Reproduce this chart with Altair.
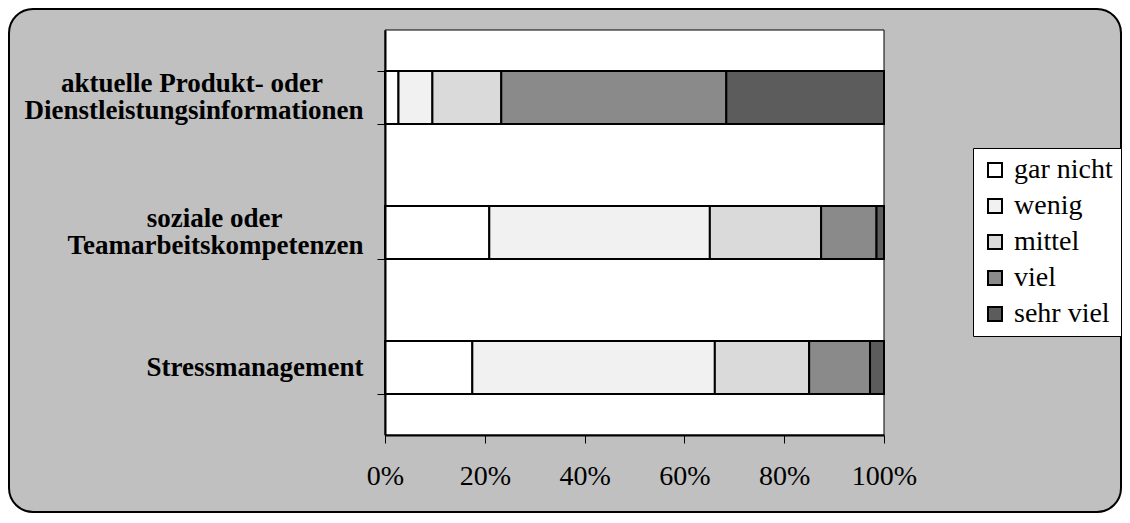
import json
import altair as alt
import pandas as pd

# ---- data ----
category_lines = [
    ["aktuelle Produkt- oder", "Dienstleistungsinformationen"],
    ["soziale oder", "Teamarbeitskompetenzen"],
    ["Stressmanagement"],
]
levels = ["gar nicht", "wenig", "mittel", "viel", "sehr viel"]
produkt = [2.7, 6.8, 13.8, 45.1, 31.6]
sozial = [20.9, 44.2, 22.3, 11.1, 1.5]
stress = [17.5, 48.6, 18.9, 12.2, 2.8]
x_ticks = [0, 0.2, 0.4, 0.6, 0.8, 1.0]

colors = ["#ffffff", "#f1f1f1", "#dadada", "#8a8a8a", "#5c5c5c"]

categories = [" ".join(lines) for lines in category_lines]

# Label layout helpers: half-height filler lines keep one- and two-line labels
# vertically centred; no-break spaces (closed by a zero-width space so they are
# not trimmed) make the right-aligned short first lines look centred.
ZW = "\u200b"
pad = [6, 12, 0]
display = {}
for cat, lines, p in zip(categories, category_lines, pad):
    if len(lines) > 1:
        shown = [lines[0] + "\u00a0" * p + ZW, ZW, lines[1]]
    else:
        shown = [ZW, lines[0]]
    display[cat] = shown
lut = json.dumps(display)

rows = []
for cat, vals in zip(categories, [produkt, sozial, stress]):
    for i, (lev, v) in enumerate(zip(levels, vals)):
        rows.append({"cat": cat, "level": lev, "idx": i, "value": v})
df = pd.DataFrame(rows)

W, H = 499, 405
one = pd.DataFrame({"k": [0]})

frame = alt.Chart(one).mark_rect(
    fill="#c0c0c0", stroke="black", strokeWidth=2, cornerRadius=24
).encode(
    x=alt.value(-376), x2=alt.value(W + 237),
    y=alt.value(-21), y2=alt.value(H + 77),
)

plotbg = alt.Chart(one).mark_rect(
    fill="white", stroke="black", strokeWidth=1
).encode(
    x=alt.value(0), x2=alt.value(W), y=alt.value(0), y2=alt.value(H)
)

bars = alt.Chart(df).mark_bar(stroke="black", strokeWidth=2).encode(
    y=alt.Y(
        "cat:N",
        sort=categories,
        title=None,
        scale=alt.Scale(paddingInner=0.607, paddingOuter=0.3035),
        axis=alt.Axis(
            labelExpr=f"{lut}[datum.value]",
            labelFont="Liberation Serif",
            labelFontWeight="bold",
            labelFontSize=27,
            labelLineHeight=13.5,
            labelAlign="right",
            labelBaseline="bottom",
            labelPadding=14,
            labelColor="black",
            labelLimit=400,
            tickBand="extent",
            tickSize=8,
            tickColor="black",
            tickWidth=1,
            domainColor="black",
            domainWidth=2,
            zindex=1,
        ),
    ),
    x=alt.X(
        "value:Q",
        stack="normalize",
        title=None,
        scale=alt.Scale(domain=[0, 1], nice=False),
        axis=alt.Axis(
            values=x_ticks,
            format=".0%",
            labelFont="Liberation Serif",
            labelFontSize=28,
            labelColor="black",
            labelFlush=False,
            labelPadding=19,
            tickSize=8,
            tickColor="black",
            tickWidth=1,
            domainColor="black",
            domainWidth=2,
            grid=False,
            zindex=1,
        ),
    ),
    fill=alt.Fill(
        "level:N",
        sort=levels,
        scale=alt.Scale(domain=levels, range=colors),
        legend=alt.Legend(
            title=None,
            orient="none",
            legendX=588,
            legendY=118,
            symbolType="square",
            symbolSize=196,
            symbolStrokeColor="black",
            symbolStrokeWidth=2,
            labelFont="Liberation Serif",
            labelFontSize=28,
            labelColor="black",
            labelOffset=5,
            rowPadding=8,
            padding=8,
            fillColor="white",
            strokeColor="black",
            zindex=1,
        ),
    ),
    order=alt.Order("idx:Q", sort="ascending"),
)

chart = alt.layer(frame, plotbg, bars).properties(
    width=W,
    height=H,
    autosize=alt.AutoSizeParams(type="none"),
    padding={"left": 377, "top": 22, "right": 238, "bottom": 79},
).configure_view(stroke=None)

chart.save("out.html", embed_options={"renderer": "svg", "actions": False})
